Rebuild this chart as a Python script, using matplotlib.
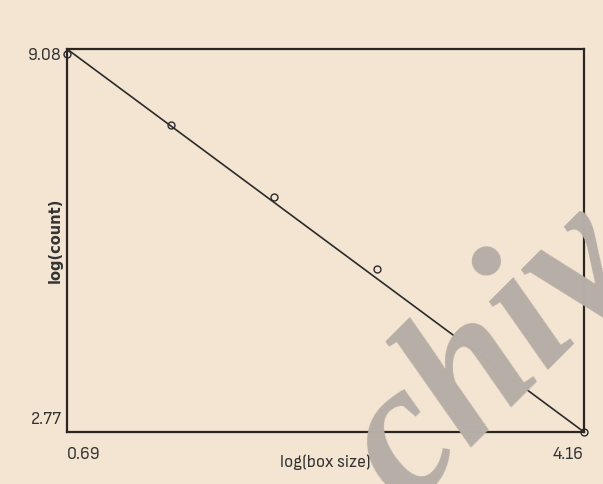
import matplotlib
matplotlib.use("Agg")
import matplotlib.pyplot as plt
from matplotlib import font_manager
from matplotlib.font_manager import FontProperties

# data
log_box_size = [0.69, 1.39, 2.08, 2.77, 3.47, 4.16]
log_count = [9.00, 7.82, 6.64, 5.45, 4.10, 2.77]
fit_x = [0.69, 4.16]
fit_y = [9.08, 2.77]
x_ticks = [0.69, 4.16]
y_ticks = [2.77, 9.08]

# look for a condensed sans face (Arial Narrow-like); fall back to Liberation Sans
cond = None
for f in font_manager.fontManager.ttflist:
    fn = f.fname.lower()
    if f.style == "normal" and f.weight in (400, "normal") and (
            "narrow" in fn or "condensed" in fn) and "sans" in fn and "mono" not in fn:
        cond = f.fname
        if "liberation" in fn or "arial" in fn:
            break
if cond:
    tick_fp = FontProperties(fname=cond, size=13)
else:
    tick_fp = FontProperties(family="Liberation Sans", size=12)

bg = "#f4e5d3"
fig = plt.figure(figsize=(6.03, 4.85), dpi=100, facecolor=bg)

# watermark (behind the plot)
fig.text(492/603, 1-357/485, "chiv", rotation=45, rotation_mode="anchor",
         ha="center", va="center",
         fontsize=140, family="Liberation Serif", style="italic", fontweight="bold",
         color="#b7afa7", zorder=0)

ax = fig.add_axes([67/603, 1-433/485, (584-67)/603, (433-50)/485])
ax.patch.set_alpha(0)

ax.plot(fit_x, fit_y, color="#2b2b2b", lw=1.2, zorder=3)
ax.plot(log_box_size, log_count, ls="none", marker="o", ms=5, mfc="none",
        mec="#2b2b2b", mew=1.0, zorder=4, clip_on=False)

ax.set_xlim(x_ticks[0], x_ticks[-1])
ax.set_ylim(y_ticks[0], y_ticks[-1])
ax.set_xticks([])
ax.set_yticks([])
for s in ax.spines.values():
    s.set_color("#2b2622")
    s.set_linewidth(1.6)

tc = "#333333"
fig.text(67/603, 1-455/485, f"{x_ticks[0]:.2f}", ha="left", va="center",
         fontproperties=tick_fp, color=tc)
fig.text(584/603, 1-455/485, f"{x_ticks[-1]:.2f}", ha="right", va="center",
         fontproperties=tick_fp, color=tc)
fig.text(62/603, 1-55/485, f"{y_ticks[-1]:.2f}", ha="right", va="center",
         fontproperties=tick_fp, color=tc)
fig.text(62/603, 1-420/485, f"{y_ticks[0]:.2f}", ha="right", va="center",
         fontproperties=tick_fp, color=tc)
fig.text(325/603, 1-462/485, "log(box size)", ha="center", va="center",
         fontproperties=tick_fp, color=tc)
fig.text(55/603, 1-240/485, "log(count)", rotation=90, ha="center", va="center",
         fontsize=10.5, fontweight="bold", family="DejaVu Sans", color=tc)

fig.savefig("out.png", dpi=100, facecolor=bg)
